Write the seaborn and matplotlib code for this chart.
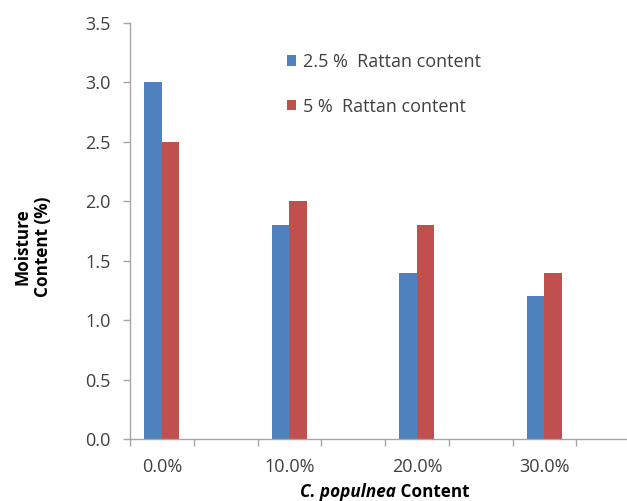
import matplotlib
matplotlib.use("Agg")
import matplotlib.pyplot as plt
from matplotlib.ticker import FixedLocator, NullFormatter
import seaborn as sns
import pandas as pd
import numpy as np

# C. populnea content levels and measured moisture content (%)
categories = ["0.0%", "10.0%", "20.0%", "30.0%"]
rattan_2_5 = [3.0, 1.8, 1.4, 1.2]
rattan_5 = [2.5, 2.0, 1.8, 1.4]
series_names = ["2.5 %  Rattan content", "5 %  Rattan content"]
y_ticks = [0.0, 0.5, 1.0, 1.5, 2.0, 2.5, 3.0, 3.5]

colors = ["#4F81BD", "#C0504D"]
axis_grey = "#A6A6A6"
text_grey = "#404040"

sns.set_theme(style="white")
plt.rcParams["font.family"] = ["Open Sans", "DejaVu Sans"]

df = pd.DataFrame({
    "content": categories * 2,
    "moisture": rattan_2_5 + rattan_5,
    "series": [series_names[0]] * len(categories) + [series_names[1]] * len(categories),
})

# category slots: the labelled levels with unlabelled slots between them
order = []
for i, c in enumerate(categories):
    order.append(c)
    if i < len(categories) - 1:
        order.append(" " * (i + 1))

fig = plt.figure(figsize=(6.27, 5.01), dpi=100)
ax = fig.add_axes([130 / 627, 62 / 501, 510 / 627, 416 / 501])

sns.barplot(data=df, x="content", y="moisture", hue="series",
            order=order, hue_order=series_names, palette=colors,
            width=0.55, saturation=1, linewidth=0, ax=ax)

ax.set_xlim(-0.5, len(order) - 0.5 + 1)
ax.set_ylim(0, 3.5)
ax.set_yticks(y_ticks)
ax.set_yticklabels([f"{v:.1f}" for v in y_ticks])

# boundary ticks between slots, labels centred on the slots
ax.xaxis.set_major_locator(FixedLocator(np.arange(-0.5, len(order), 1.0)))
ax.xaxis.set_major_formatter(NullFormatter())
ax.xaxis.set_minor_locator(FixedLocator(np.arange(len(order))))
ax.set_xticklabels(order, minor=True)
ax.tick_params(axis="x", which="major", length=5, width=1, color=axis_grey, direction="out", bottom=True)
ax.tick_params(axis="x", which="minor", length=0, pad=14, labelsize=13, labelcolor=text_grey, bottom=True)
ax.tick_params(axis="y", length=5, width=1, color=axis_grey, direction="out", left=True,
               pad=9, labelsize=13, labelcolor=text_grey)

for side in ("top", "right"):
    ax.spines[side].set_visible(False)
for side in ("left", "bottom"):
    ax.spines[side].set_color(axis_grey)
    ax.spines[side].set_linewidth(1)

ax.set_xlabel("")
ax.set_ylabel("")

handles, labels = ax.get_legend_handles_labels()
ax.legend(handles, labels, loc="upper left", bbox_to_anchor=(287 / 627, 1 - 53 / 501),
          bbox_transform=fig.transFigure, frameon=False, fontsize=13,
          borderpad=0, borderaxespad=0,
          handlelength=0.5, handleheight=0.5, handletextpad=0.4, labelspacing=1.48,
          labelcolor=text_grey)

fig.text(33 / 627, 1 - 247 / 501, "Moisture\nContent (%)", rotation=90,
         ha="center", va="center", ma="center", fontsize=12.3, fontweight="bold",
         color="black", linespacing=1.2)

xl = fig.text(300 / 627, 1 - 497 / 501, "C. populnea", ha="left", va="baseline",
              fontsize=12.3, fontweight="bold", fontstyle="italic", color="black")
ax.annotate(" Content", xy=(1, 0), xycoords=xl, ha="left", va="bottom",
            fontsize=12.3, fontweight="bold", color="black", annotation_clip=False)

fig.savefig("out.png", dpi=100, facecolor="white")
